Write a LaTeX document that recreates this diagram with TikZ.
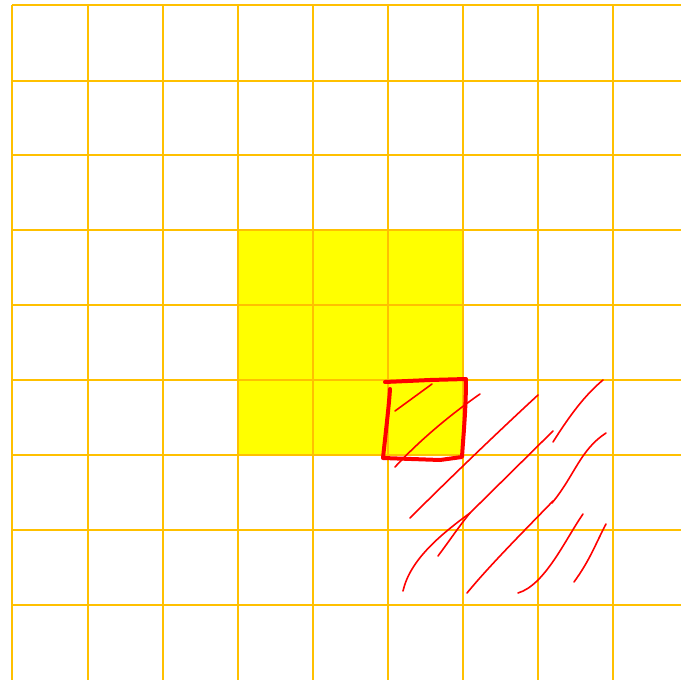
\documentclass[tikz,border=0pt]{standalone}
\usepackage{tikz}
\definecolor{gridamber}{HTML}{FFC000}
\definecolor{cellyellow}{HTML}{FFFF00}
\tikzset{
  gridline/.style={draw=gridamber, line width=2.6pt},
  cellfill/.style={fill=cellyellow},
  markbox/.style={draw=red, line width=4pt, line cap=round, line join=round},
  hatch/.style={draw=red, line width=1.6pt, line cap=round},
}

\begin{document}
\begin{tikzpicture}[x=1pt, y=-1pt]

\useasboundingbox (0,0) rectangle (681,680);

% highlighted 3x3 block
\fill[cellfill] (238,230) rectangle (463,455);

% grid
\foreach \gx in {12,88,163,238,313,388,463,538,613}
  \draw[gridline] (\gx,5) -- (\gx,680);
\foreach \gy in {5,81,155,230,305,380,455,530,605}
  \draw[gridline] (12,\gy) -- (681,\gy);

% hand drawn box
\draw[markbox] (385,382) -- (430,380) -- (466,379)
  .. controls (466,410) and (463,440) .. (462,457)
  -- (440,460) -- (383,458)
  .. controls (386,430) and (389,405) .. (390,389);

% hatching
\draw[hatch] (395,411) -- (432,384);
\draw[hatch] (395,467) .. controls (420,440) and (450,415) .. (480,394);
\draw[hatch] (410,518) .. controls (450,478) and (500,430) .. (538,395);
\draw[hatch] (403,591) .. controls (410,560) and (440,535) .. (470,513)
  -- (553,431);
\draw[hatch] (438,556) .. controls (450,540) and (460,525) .. (470,513);
\draw[hatch] (553,442) .. controls (570,415) and (585,395) .. (603,380);
\draw[hatch] (552,503) .. controls (575,475) and (580,450) .. (606,433);
\draw[hatch] (467,593) .. controls (490,565) and (525,530) .. (553,501);
\draw[hatch] (518,593) .. controls (545,585) and (565,540) .. (583,514);
\draw[hatch] (574,582) .. controls (590,560) and (595,545) .. (606,524);

\end{tikzpicture}
\end{document}
